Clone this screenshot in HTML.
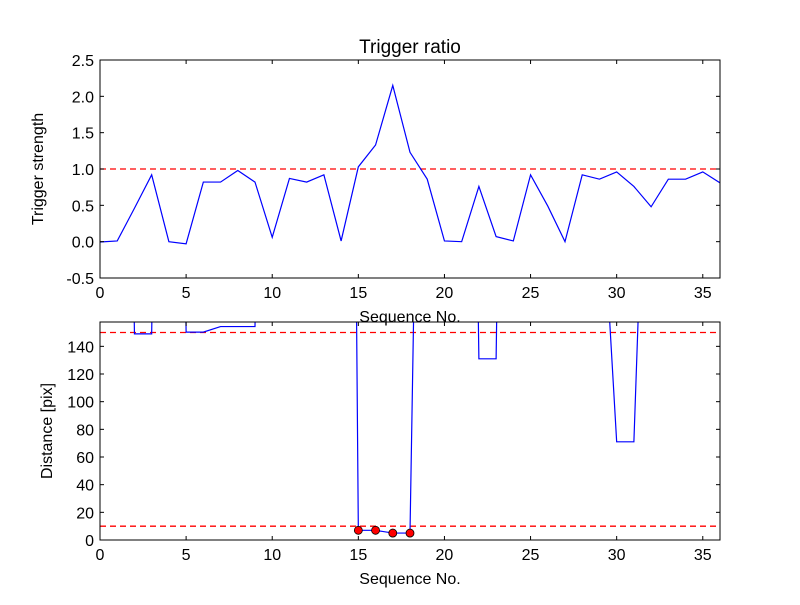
<!DOCTYPE html>
<html><head><meta charset="utf-8"><style>
body{margin:0;background:#fff;}
svg text{font-family:"Liberation Sans",sans-serif;}
</style></head><body>
<svg id="chart" width="800" height="600" xmlns="http://www.w3.org/2000/svg">
<defs>
<clipPath id="c1"><rect x="100" y="60" width="620" height="218"/></clipPath>
<clipPath id="c2"><rect x="100" y="322" width="620" height="218"/></clipPath>
</defs>
<rect width="800" height="600" fill="#fff"/>
<g id="top"></g>
<g id="bot"></g>
</svg>
<script>
const seq = [0,1,2,3,4,5,6,7,8,9,10,11,12,13,14,15,16,17,18,19,20,21,22,23,24,25,26,27,28,29,30,31,32,33,34,35,36];
const strength = [-0.005,0.01,0.46,0.92,0.0,-0.03,0.82,0.82,0.98,0.82,0.06,0.87,0.82,0.92,0.01,1.03,1.33,2.15,1.23,0.86,0.01,0.0,0.76,0.07,0.01,0.92,0.49,0.0,0.92,0.86,0.96,0.76,0.48,0.86,0.86,0.96,0.81];
const distance = [1000,1000,149,149,1000,150.3,150.3,154.3,154.3,154.3,1000,1000,1000,1000,1500,7,7,5,5,750,1000,1000,131,131,1000,1000,1000,1000,1000,286,71,71,430,1000,1000,1000,1000];
const topYTicks = [-0.5,0.0,0.5,1.0,1.5,2.0,2.5];
const botYTicks = [0,20,40,60,80,100,120,140];
const xTicks = [0,5,10,15,20,25,30,35];
const strengthThreshold = 1.0;
const distThresholds = [10,150];
const markerLimit = 10;

const NS="http://www.w3.org/2000/svg";
function mk(p,tag,attrs){const e=document.createElementNS(NS,tag);for(const k in attrs)e.setAttribute(k,attrs[k]);p.appendChild(e);return e;}
const X0=100,X1=720;
const xs=v=>X0+(v-0)/(36-0)*(X1-X0);
function panel(g,top,bot,ymin,ymax){
  return v=>bot-(v-ymin)/(ymax-ymin)*(bot-top);
}
function axes(g,top,bot,ys,yticks,fmt,ylabel,xlabelName,ylOff){
  const fr=mk(g,'rect',{x:X0,y:top,width:X1-X0,height:bot-top,fill:'none',stroke:'#000','stroke-width':1});
  
  
  xTicks.forEach(t=>{
    const x=xs(t);
    const l1=mk(g,'line',{x1:x,x2:x,y1:bot,y2:bot-4,stroke:'#000'});
    
    
    mk(g,'line',{x1:x,x2:x,y1:top,y2:top+4,stroke:'#000'});
    const tx=mk(g,'text',{x:x,y:bot+20,'text-anchor':'middle','font-size':16});
    tx.textContent=t;
    
    
  });
  yticks.forEach(t=>{
    const y=ys(t);
    const l=mk(g,'line',{x1:X0,x2:X0+4,y1:y,y2:y,stroke:'#000'});
    
    
    mk(g,'line',{x1:X1,x2:X1-4,y1:y,y2:y,stroke:'#000'});
    const tx=mk(g,'text',{x:X0-6,y:y+6,'text-anchor':'end','font-size':16});
    tx.textContent=fmt(t);
    
    
  });
  const yl=mk(g,'text',{x:0,y:0,'text-anchor':'middle','font-size':16,transform:`translate(${X0-ylOff},${(top+bot)/2}) rotate(-90)`});
  yl.textContent=ylabel;
  
  
  const xl=mk(g,'text',{x:(X0+X1)/2,y:bot+44,'text-anchor':'middle','font-size':16});
  xl.textContent='Sequence No.';
  
  
}
const gT=document.getElementById('top');


const ysT=panel(gT,60,278,-0.5,2.5);
const cT=mk(gT,'g',{'clip-path':'url(#c1)'});
const thr=mk(cT,'line',{x1:X0,x2:X1,y1:ysT(strengthThreshold),y2:ysT(strengthThreshold),stroke:'#f00','stroke-width':1.3,'stroke-dasharray':'6,4'});


const lT=mk(cT,'polyline',{points:seq.map((s,i)=>xs(s)+','+ysT(strength[i])).join(' '),fill:'none',stroke:'#00f','stroke-width':1.2});


axes(gT,60,278,ysT,topYTicks,t=>t.toFixed(1),'Trigger strength','x-axis-title-top',57);
const title=mk(gT,'text',{x:410,y:53,'text-anchor':'middle','font-size':19});
title.textContent='Trigger ratio';


const gB=document.getElementById('bot');


const ysB=panel(gB,322,540,0,157.6);
const cB=mk(gB,'g',{'clip-path':'url(#c2)'});
distThresholds.forEach(v=>{
  const l=mk(cB,'line',{x1:X0,x2:X1,y1:ysB(v),y2:ysB(v),stroke:'#f00','stroke-width':1.3,'stroke-dasharray':'6,4'});
  
  
});
const lB=mk(cB,'polyline',{points:seq.map((s,i)=>xs(s)+','+ysB(distance[i])).join(' '),fill:'none',stroke:'#00f','stroke-width':1.2});


seq.forEach((s,i)=>{ if(distance[i]<markerLimit){
  const c=mk(cB,'circle',{cx:xs(s),cy:ysB(distance[i]),r:4,fill:'#f00',stroke:'#000','stroke-width':0.8});
  
  
}});
axes(gB,322,540,ysB,botYTicks,t=>String(t),'Distance [pix]','x-axis-title-bottom',48);
</script>
</body></html>
